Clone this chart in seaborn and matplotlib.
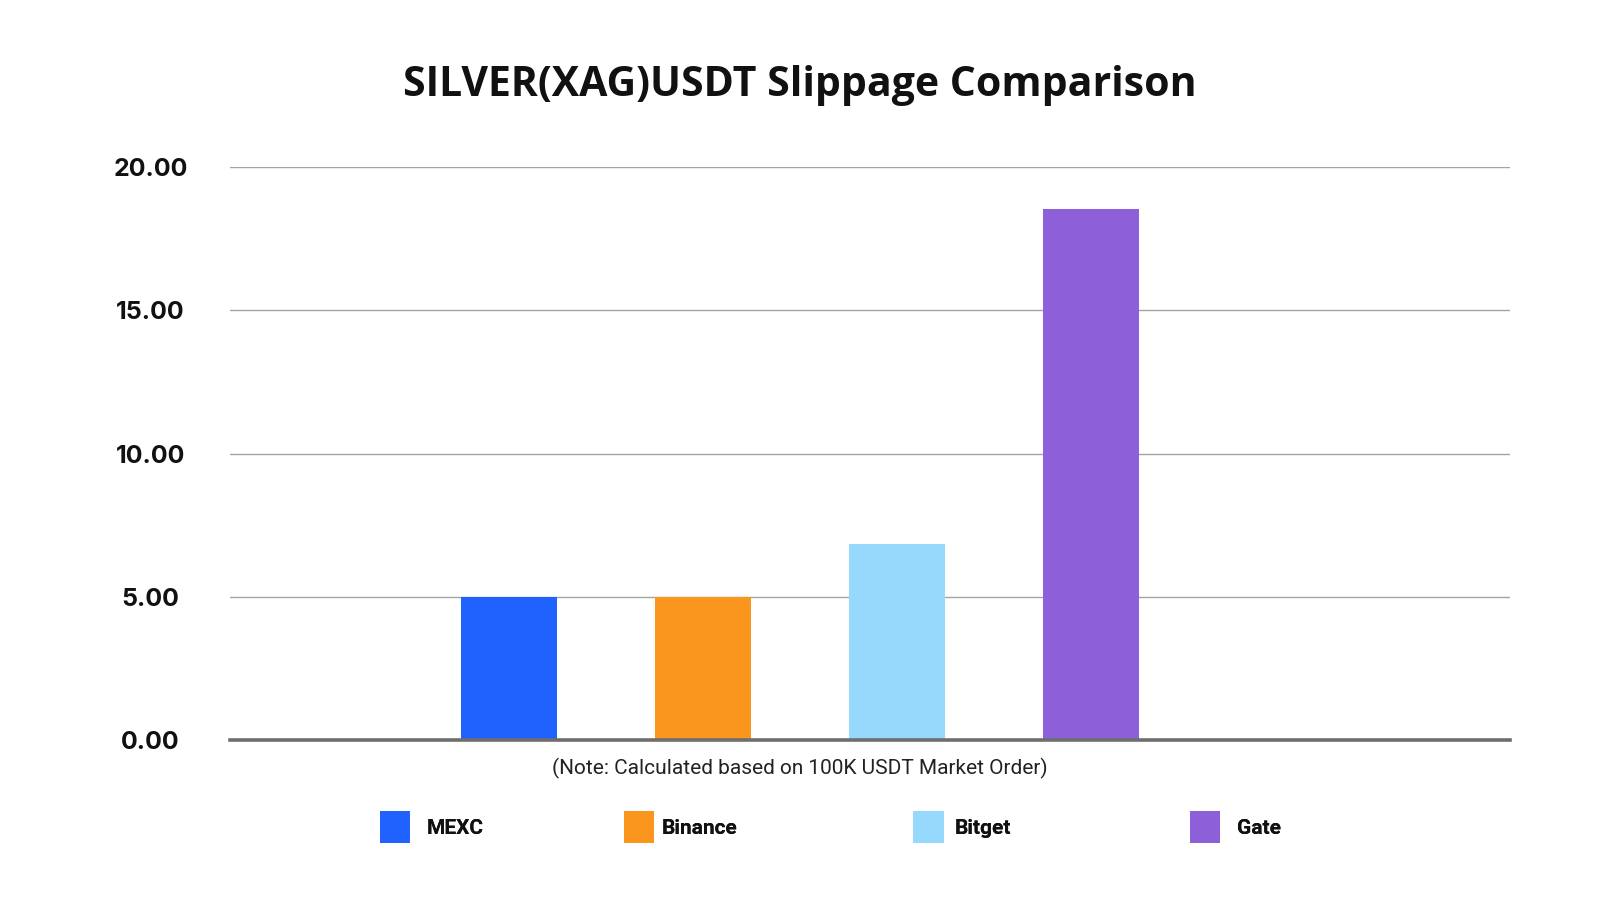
import matplotlib
matplotlib.use("Agg")
import matplotlib.pyplot as plt
import seaborn as sns
import pandas as pd
from matplotlib.patches import Patch

# ---- data ----
exchanges = ["MEXC", "Binance", "Bitget", "Gate"]
slippage = [4.98, 4.98, 6.84, 18.52]
colors = ["#2062FD", "#FA961E", "#97D9FC", "#8D5FD8"]
y_ticks = [0, 5, 10, 15, 20]
y_tick_labels = ["0.00", "5.00", "10.00", "15.00", "20.00"]
title = "SILVER(XAG)USDT Slippage Comparison"
note = "(Note: Calculated based on 100K USDT Market Order)"
legend_x = [379.6, 623.5, 913.3, 1189.8]  # legend entry left edges (px)
legend_pad = [0.8, 0.36, 0.51, 0.8]

df = pd.DataFrame({"exchange": exchanges, "slippage": slippage})

sns.set_theme(style="white")
plt.rcParams["font.family"] = ["Inter", "DejaVu Sans"]

fig = plt.figure(figsize=(16, 9), dpi=100)
ax = fig.add_axes([0.1435, 0.1778, 0.944 - 0.1435, 0.8144 - 0.1778])

sns.barplot(data=df, x="exchange", y="slippage", hue="exchange",
            palette=colors, width=0.495, legend=False, ax=ax,
            edgecolor="none", linewidth=0, saturation=1)

ax.set_xlim(-1.44, 5.16)
ax.set_ylim(0, 20)
ax.set_yticks(y_ticks)
ax.set_yticklabels(y_tick_labels, fontsize=18, fontweight="bold",
                   color="#111111", family=["Inter", "DejaVu Sans"])
for lab in ax.get_yticklabels():
    lab.set_horizontalalignment("center")
ax.tick_params(axis="y", length=0, pad=57)
ax.set_xticks([])
ax.set_xlabel("")
ax.set_ylabel("")

ax.grid(axis="y", color="#a3a3a3", linewidth=1.0)
ax.set_axisbelow(True)
for s in ["left", "right", "top"]:
    ax.spines[s].set_visible(False)
ax.spines["bottom"].set_color("#6e6e6e")
ax.spines["bottom"].set_linewidth(2.6)
ax.spines["bottom"].set_zorder(5)

fig.text(0.5, 1 - 85 / 900, title, ha="center", va="center",
         fontsize=29.5, fontweight="bold", color="#111111",
         family=["Open Sans", "DejaVu Sans"])

fig.text(0.5, 1 - 768 / 900, note, ha="center", va="center",
         fontsize=15, color="#222222", family=["Roboto", "DejaVu Sans"])

for c, l, x, p in zip(colors, exchanges, legend_x, legend_pad):
    leg = fig.legend(handles=[Patch(facecolor=c, edgecolor="none", label=l)],
                     loc="center left", bbox_to_anchor=(x / 1600, 1 - 827 / 900),
                     frameon=False, handlelength=1.45, handleheight=1.95,
                     handletextpad=p, borderpad=0, borderaxespad=0,
                     prop={"family": ["Roboto", "DejaVu Sans"], "weight": "bold", "size": 15})
    for t in leg.get_texts():
        t.set_color("#111111")
    fig.add_artist(leg)

fig.savefig("out.png", dpi=100, facecolor="white")
